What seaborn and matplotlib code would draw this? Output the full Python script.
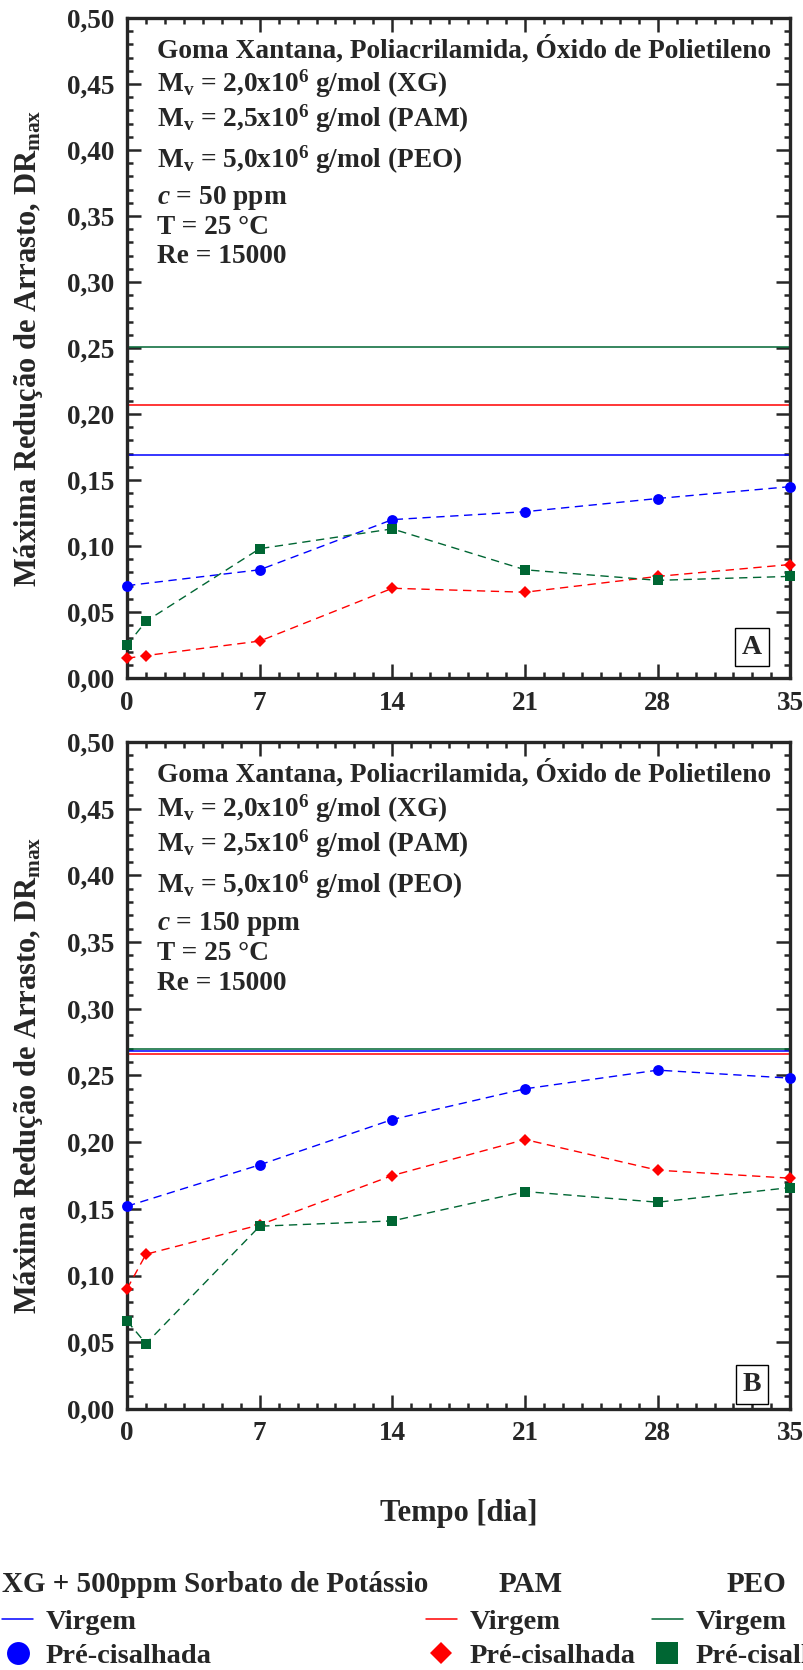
import numpy as np
import pandas as pd
import seaborn as sns
import matplotlib
matplotlib.use("Agg")
import matplotlib.pyplot as plt
from matplotlib.lines import Line2D
from matplotlib.ticker import MultipleLocator, FuncFormatter

# ---- data ----
days_xg = [0, 7, 14, 21, 28, 35]
days = [0, 1, 7, 14, 21, 28, 35]

# panel A (c = 50 ppm)
xg_a = [0.070, 0.082, 0.120, 0.126, 0.136, 0.145]
pam_a = [0.015, 0.017, 0.028, 0.068, 0.065, 0.077, 0.086]
peo_a = [0.025, 0.043, 0.098, 0.113, 0.082, 0.074, 0.077]
virgem_a = {"XG": 0.169, "PAM": 0.207, "PEO": 0.251}

# panel B (c = 150 ppm)
xg_b = [0.152, 0.183, 0.217, 0.240, 0.254, 0.248]
pam_b = [0.090, 0.116, 0.138, 0.175, 0.202, 0.179, 0.173]
peo_b = [0.066, 0.049, 0.137, 0.141, 0.163, 0.155, 0.166]
virgem_b = {"XG": 0.268, "PAM": 0.266, "PEO": 0.270}

info_lines = [
    "Goma Xantana, Poliacrilamida, Óxido de Polietileno",
    "M$_\\mathrm{v}$ = 2,0x10$^\\mathrm{6}$ g/mol (XG)",
    "M$_\\mathrm{v}$ = 2,5x10$^\\mathrm{6}$ g/mol (PAM)",
    "M$_\\mathrm{v}$ = 5,0x10$^\\mathrm{6}$ g/mol (PEO)",
    None,  # concentration line, per panel
    "T = 25 °C",
    "Re = 15000",
]

colors = {"XG": "#0000FF", "PAM": "#FF0000", "PEO": "#006633"}
markers = {"XG": "o", "PAM": "D", "PEO": "s"}
msizes = {"XG": 7.8, "PAM": 5.8, "PEO": 7.4}
leg_msizes = {"XG": 16.5, "PAM": 11.5, "PEO": 15.5}

sns.set_style("ticks")
plt.rcParams["font.family"] = ["Liberation Serif", "DejaVu Serif"]
plt.rcParams["font.weight"] = "bold"
plt.rcParams["mathtext.fontset"] = "custom"
plt.rcParams["mathtext.rm"] = "Liberation Serif:bold"
plt.rcParams["mathtext.bf"] = "Liberation Serif:bold"
plt.rcParams["mathtext.it"] = "Liberation Serif:italic:bold"

fig = plt.figure(figsize=(8.04, 16.70), dpi=100)
ax_a = fig.add_axes([0.1580, 0.594, 0.8250, 0.3952])
ax_b = fig.add_axes([0.1580, 0.1563, 0.8250, 0.3994])

panels = [
    (ax_a, xg_a, pam_a, peo_a, virgem_a, "50 ppm", "A", 0.047),
    (ax_b, xg_b, pam_b, peo_b, virgem_b, "150 ppm", "B", 0.037),
]

for ax, xg, pam, peo, virgem, conc, tag, tag_y in panels:
    # virgin polymer reference lines
    for key in ["XG", "PAM", "PEO"]:
        ax.axhline(virgem[key], color=colors[key], lw=1.1, zorder=2)

    # pre-sheared series
    for key, x, y in [("XG", days_xg, xg), ("PAM", days, pam), ("PEO", days, peo)]:
        df = pd.DataFrame({"dia": x, "DR": y})
        sns.lineplot(data=df, x="dia", y="DR", ax=ax, color=colors[key],
                     linestyle=(0, (6, 4)), lw=1.0, marker=markers[key],
                     markersize=msizes[key], markeredgecolor=colors[key],
                     markeredgewidth=0, clip_on=False, zorder=3)

    ax.set_xlim(0, 35)
    ax.set_ylim(0, 0.5)
    ax.xaxis.set_major_locator(MultipleLocator(7))
    ax.xaxis.set_minor_locator(MultipleLocator(1))
    ax.yaxis.set_major_locator(MultipleLocator(0.05))
    ax.yaxis.set_minor_locator(MultipleLocator(0.01))
    ax.yaxis.set_major_formatter(FuncFormatter(lambda v, p: f"{v:.2f}".replace(".", ",")))
    ax.tick_params(which="both", direction="in", top=True, right=True, width=1.8)
    ax.tick_params(which="major", length=10, labelsize=19.5, pad=9)
    ax.tick_params(which="minor", length=4.5)
    for s in ax.spines.values():
        s.set_linewidth(2.4)
        s.set_visible(True)

    ax.set_ylabel("Máxima Redução de Arrasto, DR$_\\mathrm{max}$", fontsize=22,
                  fontweight="bold", labelpad=16)
    ax.set_xlabel("")

    ys = [0.952, 0.900, 0.847, 0.786, 0.727, 0.683, 0.638]
    for line, yy in zip(info_lines, ys):
        txt = line if line is not None else "$c$ = " + conc
        ax.text(0.045, yy, txt, transform=ax.transAxes, fontsize=19.7,
                fontweight="bold", va="center", ha="left")

    ax.text(0.942, tag_y, tag, transform=ax.transAxes, fontsize=20,
            fontweight="bold", ha="center", va="center",
            bbox=dict(boxstyle="square,pad=0.25", fc="white", ec="black", lw=1.0))

ax_b.set_xlabel("Tempo [dia]", fontsize=22, fontweight="bold", labelpad=38)

# ---- legend: three groups ----
groups = [
    ("XG", "XG + 500ppm Sorbato de Potássio", 0.003, "left"),
    ("PAM", "PAM", 0.530, "center"),
    ("PEO", "PEO", 0.811, "center"),
]
for key, title, xpos, align in groups:
    handles = [
        Line2D([], [], color=colors[key], lw=1.1),
        Line2D([], [], color=colors[key], lw=0, marker=markers[key],
               markersize=leg_msizes[key], markeredgewidth=0),
    ]
    leg = fig.legend(handles, ["Virgem", "Pré-cisalhada"], title=title,
                     loc="upper left", bbox_to_anchor=(xpos, 0.0594),
                     frameon=False, fontsize=20.5, title_fontsize=21,
                     handlelength=1.08, handletextpad=0.45, labelspacing=0.28,
                     borderpad=0, borderaxespad=0, alignment=align)
    leg.get_title().set_fontweight("bold")
    leg._legend_box.sep = 8
    for t in leg.get_texts():
        t.set_fontweight("bold")

fig.savefig("out.png", dpi=100)
